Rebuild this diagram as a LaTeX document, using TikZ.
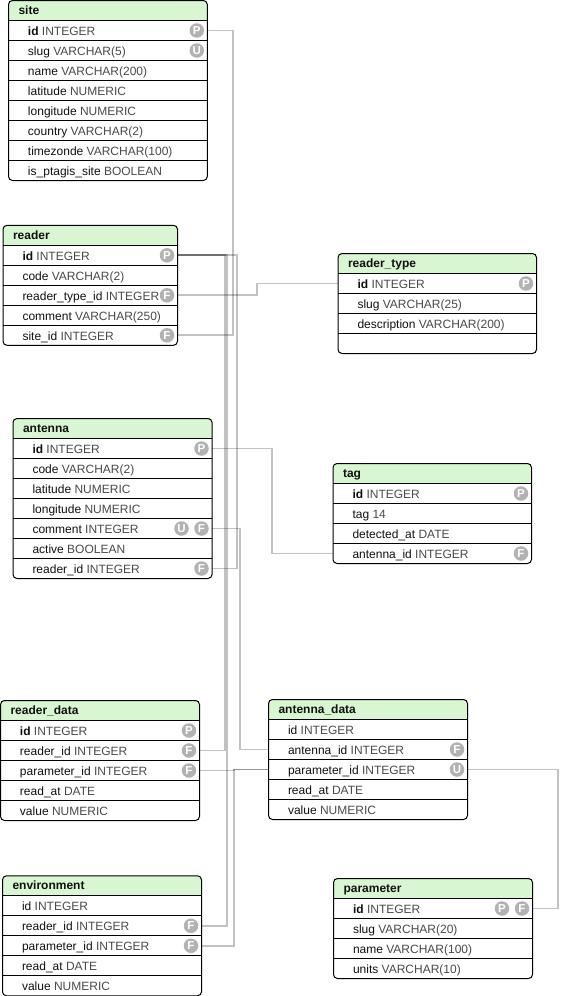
\documentclass[tikz,border=0pt]{standalone}
\usepackage{fontspec}
\setmainfont{Liberation Sans}
\definecolor{hdrgreen}{HTML}{D8F6D2}
\definecolor{badgegray}{HTML}{B2B2B2}
\definecolor{typegray}{HTML}{4A4A4A}
\definecolor{inkc}{HTML}{111111}
\newcommand{\curW}{199}
\newcommand{\etable}[5]{% id, left, top, width, title
  \renewcommand{\curW}{#4}%
  \node[headcell] (#1) at (#2,#3) {\makebox[#4pt][l]{\hspace{10pt}\bfseries\phantom{#5}}};
  \fill[hdrgreen] (#1.south west) [rounded corners=4pt] -- (#1.north west) -- (#1.north east) [sharp corners] -- (#1.south east) -- cycle;
  \node[headcell,anchor=center] (#1-title) at (#1.center) {\makebox[#4pt][l]{\hspace{10pt}\bfseries #5}};
}
\newcommand{\erow}[4]{% prev, id, name, type
  \node[rowcell] (#2) at (#1.south west) {\makebox[\curW pt][l]{\hspace{19.5pt}#3\ifx&#4&\else\ {\color{typegray}#4}\fi}};
  \draw[rule] (#2.north west) -- (#2.north east);
}
\newcommand{\ebadge}[3]{% row, offset, letter
  \node[badge] (#1-#3) at ([xshift=-#2pt]#1.east) {#3};
}
\newcommand{\eclose}[2]{% head, last row
  \draw[rule,rounded corners=4pt] (#1.north west) rectangle (#2.south east);
}
\tikzset{
  headcell/.style={anchor=north west,inner sep=0pt,outer sep=0pt,minimum height=20pt,text height=10pt,text depth=2pt,font=\fontsize{12}{14}\selectfont,text=inkc},
  rowcell/.style={anchor=north west,inner sep=0pt,outer sep=0pt,minimum height=20pt,text height=10.8pt,text depth=1.2pt,font=\fontsize{12}{14}\selectfont,text=inkc},
  rule/.style={draw=black,line width=1pt},
  badge/.style={circle,fill=badgegray,inner sep=0pt,outer sep=0pt,minimum size=14.5pt,text=white,font=\fontsize{11.5}{11.5}\selectfont\bfseries},
  conn/.style={draw=black,draw opacity=0.24,line width=1.9pt,line join=miter},
}
\begin{document}
\begin{tikzpicture}[x=1pt,y=-1pt]
\useasboundingbox (0,0) rectangle (573,996);
\fill[white] (0,0) rectangle (573,996);

% site
\etable{site}{8.5}{0.5}{198.8}{site}
\erow{site}{site-id}{\textbf{id}}{INTEGER}
\erow{site-id}{site-slug}{slug}{VARCHAR(5)}
\erow{site-slug}{site-name}{name}{VARCHAR(200)}
\erow{site-name}{site-lat}{latitude}{NUMERIC}
\erow{site-lat}{site-lon}{longitude}{NUMERIC}
\erow{site-lon}{site-country}{country}{VARCHAR(2)}
\erow{site-country}{site-tz}{timezonde}{VARCHAR(100)}
\erow{site-tz}{site-isp}{is\_ptagis\_site}{BOOLEAN}
\eclose{site}{site-isp}
\ebadge{site-id}{10.5}{P}
\ebadge{site-slug}{10.5}{U}

% reader
\etable{reader}{3}{225.3}{174.5}{reader}
\erow{reader}{reader-id}{\textbf{id}}{INTEGER}
\erow{reader-id}{reader-code}{code}{VARCHAR(2)}
\erow{reader-code}{reader-rt}{reader\_type\_id}{INTEGER}
\erow{reader-rt}{reader-comment}{comment}{VARCHAR(250)}
\erow{reader-comment}{reader-site}{site\_id}{INTEGER}
\eclose{reader}{reader-site}
\ebadge{reader-id}{10.5}{P}
\ebadge{reader-rt}{10.5}{F}
\ebadge{reader-site}{10.5}{F}

% reader_type
\etable{rtype}{338}{253.5}{198.5}{reader\_type}
\erow{rtype}{rtype-id}{\textbf{id}}{INTEGER}
\erow{rtype-id}{rtype-slug}{slug}{VARCHAR(25)}
\erow{rtype-slug}{rtype-desc}{description}{VARCHAR(200)}
\erow{rtype-desc}{rtype-empty}{}{}
\eclose{rtype}{rtype-empty}
\ebadge{rtype-id}{10.5}{P}

% antenna
\etable{antenna}{13}{418.5}{199}{antenna}
\erow{antenna}{antenna-id}{\textbf{id}}{INTEGER}
\erow{antenna-id}{antenna-code}{code}{VARCHAR(2)}
\erow{antenna-code}{antenna-lat}{latitude}{NUMERIC}
\erow{antenna-lat}{antenna-lon}{longitude}{NUMERIC}
\erow{antenna-lon}{antenna-comment}{comment}{INTEGER}
\erow{antenna-comment}{antenna-active}{active}{BOOLEAN}
\erow{antenna-active}{antenna-reader}{reader\_id}{INTEGER}
\eclose{antenna}{antenna-reader}
\ebadge{antenna-id}{10.5}{P}
\ebadge{antenna-comment}{10.5}{F}
\ebadge{antenna-comment}{30.5}{U}
\ebadge{antenna-reader}{10.5}{F}

% tag
\etable{tag}{333}{463.5}{198.5}{tag}
\erow{tag}{tag-id}{\textbf{id}}{INTEGER}
\erow{tag-id}{tag-tag}{tag}{14}
\erow{tag-tag}{tag-det}{detected\_at}{DATE}
\erow{tag-det}{tag-ant}{antenna\_id}{INTEGER}
\eclose{tag}{tag-ant}
\ebadge{tag-id}{10.5}{P}
\ebadge{tag-ant}{10.5}{F}

% reader_data
\etable{rdata}{0.5}{700.5}{199}{reader\_data}
\erow{rdata}{rdata-id}{\textbf{id}}{INTEGER}
\erow{rdata-id}{rdata-reader}{reader\_id}{INTEGER}
\erow{rdata-reader}{rdata-param}{parameter\_id}{INTEGER}
\erow{rdata-param}{rdata-read}{read\_at}{DATE}
\erow{rdata-read}{rdata-value}{value}{NUMERIC}
\eclose{rdata}{rdata-value}
\ebadge{rdata-id}{10.5}{P}
\ebadge{rdata-reader}{10.5}{F}
\ebadge{rdata-param}{10.5}{F}

% antenna_data
\etable{adata}{268.5}{699.5}{199}{antenna\_data}
\erow{adata}{adata-id}{id}{INTEGER}
\erow{adata-id}{adata-ant}{antenna\_id}{INTEGER}
\erow{adata-ant}{adata-param}{parameter\_id}{INTEGER}
\erow{adata-param}{adata-read}{read\_at}{DATE}
\erow{adata-read}{adata-value}{value}{NUMERIC}
\eclose{adata}{adata-value}
\ebadge{adata-ant}{10.5}{F}
\ebadge{adata-param}{10.5}{U}

% environment
\etable{env}{2.5}{875.8}{199}{environment}
\erow{env}{env-id}{id}{INTEGER}
\erow{env-id}{env-reader}{reader\_id}{INTEGER}
\erow{env-reader}{env-param}{parameter\_id}{INTEGER}
\erow{env-param}{env-read}{read\_at}{DATE}
\erow{env-read}{env-value}{value}{NUMERIC}
\eclose{env}{env-value}
\ebadge{env-reader}{10.5}{F}
\ebadge{env-param}{10.5}{F}

% parameter
\etable{param}{333.5}{878.5}{199}{parameter}
\erow{param}{param-id}{\textbf{id}}{INTEGER}
\erow{param-id}{param-slug}{slug}{VARCHAR(20)}
\erow{param-slug}{param-name}{name}{VARCHAR(100)}
\erow{param-name}{param-units}{units}{VARCHAR(10)}
\eclose{param}{param-units}
\ebadge{param-id}{10.5}{F}
\ebadge{param-id}{30.5}{P}

% connector buses
\coordinate (busSite) at (233,0);
\coordinate (busRd) at (225,0);
\coordinate (busEnv) at (227,0);
\coordinate (busAnt) at (237,0);
\coordinate (busType) at (257,0);
\coordinate (busTag) at (272.3,0);
\coordinate (busAd) at (240,0);
\coordinate (busPar) at (234.2,0);
\coordinate (busUnits) at (558,0);

\draw[conn] (site-id.east) -- (site-id.east -| busSite) -- (reader-site.east -| busSite) -- (reader-site.east);
\draw[conn] (reader-id.east) -- (reader-id.east -| busRd) -- (rdata-reader.east -| busRd) -- (rdata-reader.east);
\draw[conn] (reader-id.east) -- (reader-id.east -| busEnv) -- (env-reader.east -| busEnv) -- (env-reader.east);
\draw[conn] (reader-id.east) -- (reader-id.east -| busAnt) -- (antenna-reader.east -| busAnt) -- (antenna-reader.east);
\draw[conn] (reader-rt.east) -- (reader-rt.east -| busType) -- (rtype-id.west -| busType) -- (rtype-id.west);
\draw[conn] (antenna-id.east) -- (antenna-id.east -| busTag) -- (tag-ant.west -| busTag) -- (tag-ant.west);
\draw[conn] (antenna-comment.east) -- (antenna-comment.east -| busAd) -- (adata-ant.west -| busAd) -- (adata-ant.west);
\draw[conn] (rdata-param.east) -- (rdata-param.east -| busPar) -- (adata-param.west -| busPar) -- (adata-param.west);
\draw[conn] (env-param.east) -- (env-param.east -| busPar) -- (adata-param.west -| busPar) -- (adata-param.west);
\draw[conn] (adata-param.east) -- (adata-param.east -| busUnits) -- (param-id.east -| busUnits) -- (param-id.east);
\end{tikzpicture}
\end{document}
